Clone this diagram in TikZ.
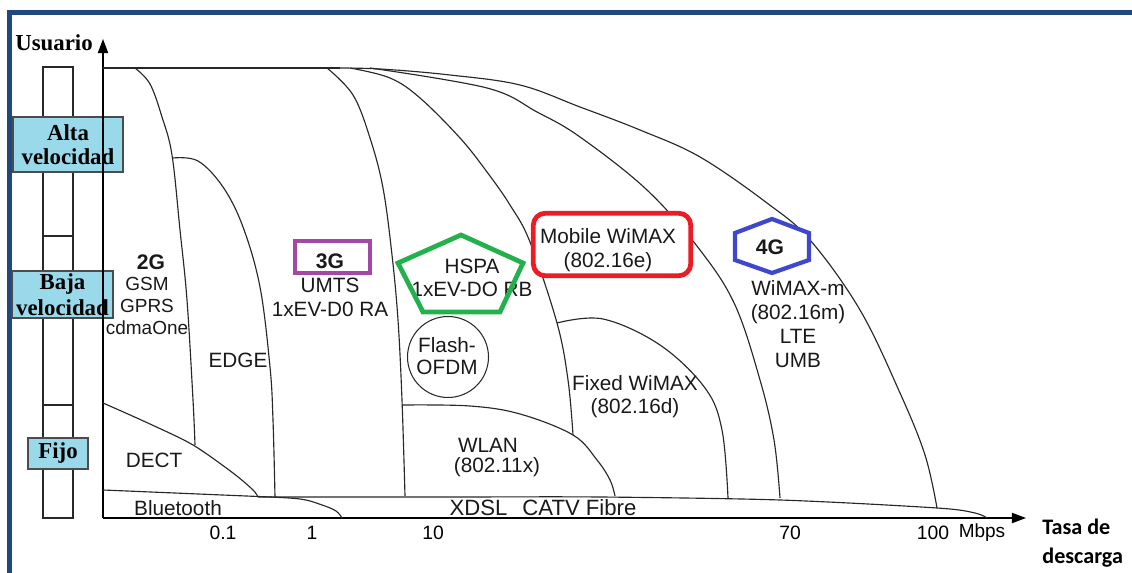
\documentclass[tikz,border=0pt]{standalone}
\usepackage{fontspec}
\setmainfont{Liberation Serif}
\setsansfont{Liberation Sans}
\newfontfamily\calfont{Carlito}
\usetikzlibrary{arrows.meta}

\definecolor{framblue}{RGB}{31,73,125}
\definecolor{skyfill}{RGB}{153,217,234}
\definecolor{gpurple}{RGB}{163,73,164}
\definecolor{ggreen}{RGB}{34,177,76}
\definecolor{gred}{RGB}{237,28,36}
\definecolor{gblue}{RGB}{63,72,204}
\definecolor{ink}{RGB}{40,40,40}

\tikzset{
  curve/.style={line width=0.65pt, draw=ink},
  axisline/.style={line width=0.75pt, draw=black, -{Triangle[length=8pt,width=5.8pt]}},
  lbl/.style={font=\sffamily\fontsize{11.8}{12.9}\selectfont, align=center, inner sep=0pt, text=black!90},
  genlbl/.style={font=\sffamily\bfseries\fontsize{12}{13}\selectfont, inner sep=0pt, text=black!90},
  tick/.style={font=\sffamily\fontsize{11}{12}\selectfont, inner sep=0pt},
  lvlbox/.style={draw=black!70, fill=skyfill, line width=0.6pt, align=center, inner sep=0pt,
                 font=\bfseries\fontsize{13}{13.6}\selectfont},
  gbox/.style={line width=2.4pt, line join=miter}
}

\begin{document}
\begin{tikzpicture}[x=0.02cm, y=-0.02cm]
\useasboundingbox (0,0) rectangle (1132,573);

% frame edges (top and left)
\draw[framblue, line width=2.85pt, line join=miter] (9.5,573) -- (9.5,12.5) -- (1132,12.5);

% user-level column
\draw[line width=0.6pt, draw=ink] (43,518) rectangle (73,67);
\draw[line width=0.6pt, draw=ink] (43,236) -- (73,236) (43,405) -- (73,405);

% user-level labels
\node[lvlbox, minimum width=2.2cm, minimum height=1.1cm] (alta) at (68,144.5) {Alta\\velocidad};
\node[lvlbox, minimum width=2.02cm, minimum height=0.94cm, font=\bfseries\fontsize{13}{14.7}\selectfont] (baja) at (62.5,294.5) {Baja\\velocidad};
\node[lvlbox, minimum width=1.2cm, minimum height=0.62cm] (fijo) at (58,453.5) {Fijo};

% axes
\coordinate (O) at (103,518);
\coordinate (ytip) at (103,39);
\coordinate (xtip) at (1026,518);
\draw[axisline] (O) -- (ytip);
\draw[axisline] (O) -- (xtip);
\node[font=\bfseries\fontsize{13}{13.5}\selectfont, inner sep=0pt] (usuario) at (54,43) {Usuario};
\node[font=\calfont\bfseries\fontsize{12.6}{16.4}\selectfont, align=left, anchor=west, inner sep=0pt] (tasa) at (1042,543.5) {Tasa de\\descarga};

% top envelope and outer boundary
\draw[curve] (103,68) -- (340,68);
\draw[curve] plot[smooth, tension=0.6] coordinates {(330,68) (380,69) (450,75) (520,85) (580,107) (640,130) (700,157) (767,203) (810,240) (860,310) (900,393) (925,455) (937,508)};
% 2G / EDGE boundaries
\draw[curve] plot[smooth, tension=0.6] coordinates {(135,68) (150,84) (162,117) (172,155) (180,230) (187,300) (193,400) (195,445)};
\draw[curve] plot[smooth, tension=0.6] coordinates {(173,158) (198,161) (223,187) (243,227) (260,287) (270,367) (273,420) (275,497)};
% 3G / HSPA boundary
\draw[curve] plot[smooth, tension=0.6] coordinates {(327,68) (353,95) (370,138) (383,188) (392,255) (398,320) (402,400) (405,496)};
% HSPA / Mobile WiMAX boundary
\draw[curve] plot[smooth, tension=0.6] coordinates {(350,68) (390,78) (420,98) (460,138) (487,172) (510,205) (530,242) (557,323) (568,380) (573,435)};
% Mobile WiMAX / 4G boundary
\draw[curve] plot[smooth, tension=0.6] coordinates {(370,68) (487,88) (537,112) (580,137) (647,190) (700,250) (735,305) (760,380) (774,440) (780,498)};
% DECT region
\draw[curve] plot[smooth, tension=0.5] coordinates {(103,403) (150,424) (193,445) (233,473) (253,490) (258,497)};
% Bluetooth band
\draw[curve] (103,490) -- (258,496.5);
\draw[curve] plot[smooth, tension=0.6] coordinates {(258,496.5) (300,499) (322,505) (336,511) (342,518)};
% fixed broadband band
\draw[curve] plot[smooth, tension=0.5] coordinates {(258,497) (450,497) (600,497) (780,500) (937,508) (975,513) (987,518)};
% WLAN region
\draw[curve] plot[smooth, tension=0.6] coordinates {(403,405) (470,406) (520,414) (573,435) (597,460) (610,480) (615,496)};
% Fixed WiMAX region
\draw[curve] plot[smooth, tension=0.6] coordinates {(557,323) (603,319) (660,345) (705,388) (722,430) (728,498)};

% Flash-OFDM circle
\node[circle, draw=ink, line width=0.6pt, minimum size=1.62cm, inner sep=0pt] (flash) at (448,357) {};
\node[lbl] (flashtxt) at (447,356) {Flash-\\[-0.4pt]OFDM};

% technology labels
\node[genlbl] (t2g) at (151,262) {2G};
\node[lbl, font=\sffamily\fontsize{10.8}{12.5}\selectfont] (g2) at (147,306) {GSM\\GPRS\\cdmaOne};
\node[lbl] (edge) at (238,360) {EDGE};
\node[lbl, font=\sffamily\fontsize{11.8}{14}\selectfont] (umts) at (330,297.5) {UMTS\\1xEV-D0 RA};
\node[lbl] (hspa) at (472,278) {HSPA\\1xEV-DO RB};
\node[lbl] (fixed) at (635,396.5) {Fixed WiMAX\\(802.16d)};
\node[lbl] (wlan) at (488,445) {WLAN};
\node[lbl] (wlanstd) at (497,467) {(802.11x)};
\node[lbl] (dect) at (154,460) {DECT};
\node[lbl] (bt) at (178,508) {Bluetooth};
\node[lbl, font=\sffamily\fontsize{12.6}{13}\selectfont] (xdsl) at (543,508) {XDSL\hspace{8.5pt}CATV Fibre};
\node[lbl, font=\sffamily\fontsize{11.8}{13.6}\selectfont] (wimaxm) at (798,324) {WiMAX-m\\(802.16m)\\LTE\\UMB};

% generation marks
\node[draw=gpurple, line width=2.3pt, minimum width=1.5cm, minimum height=0.64cm, inner sep=0pt] (box3g) at (332.5,257) {};
\node[genlbl] (t3g) at (330,261) {3G};

\draw[ggreen, gbox, line width=2.7pt] (461,235) -- (523,263) -- (500,312) -- (423,312) -- (398,263) -- cycle;

\node[draw=gred, fill=white, line width=2.7pt, rounded corners=0.24cm, minimum width=3.15cm, minimum height=1.25cm, inner sep=0pt] (mobbox) at (612,244.5) {};
\node[lbl, font=\sffamily\fontsize{11.8}{13.6}\selectfont] (mobile) at (608,250) {Mobile WiMAX\\(802.16e)};

\draw[gblue, gbox, fill=white] (772,219) -- (809,233) -- (809,260) -- (772,273) -- (735,260) -- (735,233) -- cycle;
\node[genlbl] (t4g) at (770,247) {4G};

% rate ticks
\node[tick] (r01) at (223,533) {0.1};
\node[tick] (r1) at (312,533) {1};
\node[tick] (r10) at (433,533) {10};
\node[tick] (r70) at (790,533) {70};
\node[tick] (r100) at (933,533) {100};
\node[tick, font=\sffamily\fontsize{10.8}{11}\selectfont] (mbps) at (982,533) {Mbps};
\end{tikzpicture}
\end{document}
